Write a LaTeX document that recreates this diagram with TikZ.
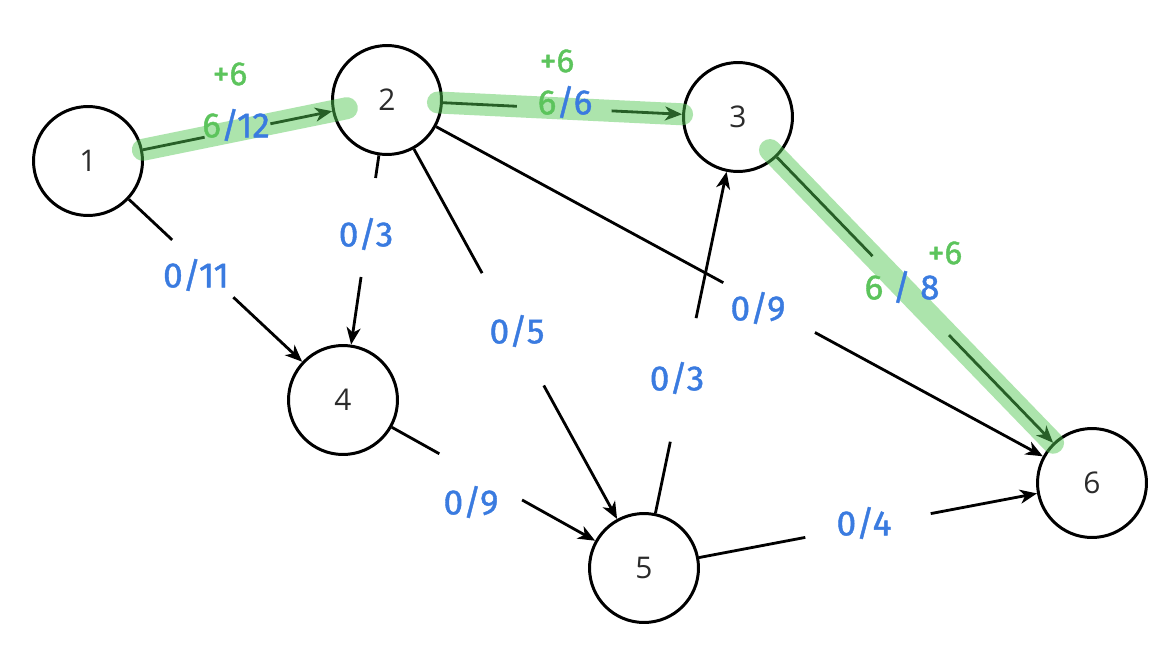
\documentclass[tikz,border=0pt]{standalone}
\usepackage{fontspec}
\setmainfont{Open Sans}
\newfontfamily\handfont[FakeBold=1.2]{Fira Sans}
\usetikzlibrary{arrows.meta,calc}
\definecolor{flowblue}{HTML}{3A7BE0}
\definecolor{flowgreen}{HTML}{5CC45C}
\definecolor{hlgreen}{HTML}{52C852}
\definecolor{nodetext}{HTML}{2B2B2B}
\begin{document}
\begin{tikzpicture}[x=0.02cm,y=-0.02cm,
  vertex/.style={circle,draw,line width=1.7pt,minimum size=2.18cm,inner sep=0pt,
    font=\fontsize{17}{19}\selectfont,text=nodetext},
  edge/.style={line width=1.6pt,black},
  arr/.style={edge,-{Stealth[length=3.4mm,width=2.8mm,inset=1mm]}},
  caplabel/.style={font=\handfont\fontsize{20}{24}\selectfont,text=flowblue,inner sep=1pt},
  pluslabel/.style={font=\handfont\fontsize{19}{22}\selectfont,text=flowgreen,inner sep=1pt},
  hl/.style={line width=0.44cm,hlgreen,opacity=0.48,line cap=round}
]
\useasboundingbox (0,0) rectangle (1174,656);
\fill[white] (0,0) rectangle (1174,656);

\node[vertex] (n1) at (88,161) {1};
\node[vertex] (n2) at (387,100) {2};
\node[vertex] (n3) at (738,117) {3};
\node[vertex] (n4) at (343,400) {4};
\node[vertex] (n5) at (644,568) {5};
\node[vertex] (n6) at (1092,483) {6};

% 1 -> 2
\draw[edge] (n1) -- ($(n1)!0.39!(n2)$);
\draw[arr] ($(n1)!0.61!(n2)$) -- (n2);
% 2 -> 3
\draw[edge] (n2) -- ($(n2)!0.37!(n3)$);
\draw[arr] ($(n2)!0.64!(n3)$) -- (n3);
% 3 -> 6
\draw[edge] (n3) -- ($(n3)!0.38!(n6)$);
\draw[arr] ($(n3)!0.596!(n6)$) -- (n6);
% 1 -> 4
\draw[edge] (n1) -- ($(n1)!0.33!(n4)$);
\draw[arr] ($(n1)!0.57!(n4)$) -- (n4);
% 2 -> 4
\draw[edge] (n2) -- ($(n2)!0.26!(n4)$);
\draw[arr] ($(n2)!0.59!(n4)$) -- (n4);
% 2 -> 5
\draw[edge] (n2) -- ($(n2)!0.37!(n5)$);
\draw[arr] ($(n2)!0.61!(n5)$) -- (n5);
% 2 -> 6
\draw[edge] (n2) -- ($(n2)!0.477!(n6)$);
\draw[arr] ($(n2)!0.607!(n6)$) -- (n6);
% 4 -> 5
\draw[edge] (n4) -- ($(n4)!0.32!(n5)$);
\draw[arr] ($(n4)!0.595!(n5)$) -- (n5);
% 5 -> 3
\draw[edge] (n5) -- ($(n5)!0.28!(n3)$);
\draw[arr] ($(n5)!0.554!(n3)$) -- (n3);
% 5 -> 6
\draw[edge] (n5) -- ($(n5)!0.36!(n6)$);
\draw[arr] ($(n5)!0.64!(n6)$) -- (n6);

% highlights of the augmenting path
\draw[hl,shorten >=-0.3cm] (n1) -- (n2);
\draw[hl,shorten <=-0.1cm] (n2) -- (n3);
\draw[hl,shorten <=-0.2cm] (n3) -- (n6);

% labels
\node[caplabel] (l12) at (236,125) {{\color{flowgreen}6}/12};
\node[pluslabel] (p12) at (230,74) {+6};
\node[caplabel] (l23) at (565,102) {{\color{flowgreen}6}/6};
\node[pluslabel] (p23) at (557,61) {+6};
\node[caplabel] (l36) at (902,287) {{\color{flowgreen}6} / 8};
\node[pluslabel] (p36) at (945,253) {+6};
\node[caplabel] (l14) at (196,275) {0/11};
\node[caplabel] (l24) at (366,234) {0/3};
\node[caplabel] (l25) at (517,331) {0/5};
\node[caplabel] (l26) at (758,308) {0/9};
\node[caplabel] (l45) at (471,502) {0/9};
\node[caplabel] (l53) at (677,378) {0/3};
\node[caplabel] (l56) at (864,523) {0/4};
\end{tikzpicture}
\end{document}
